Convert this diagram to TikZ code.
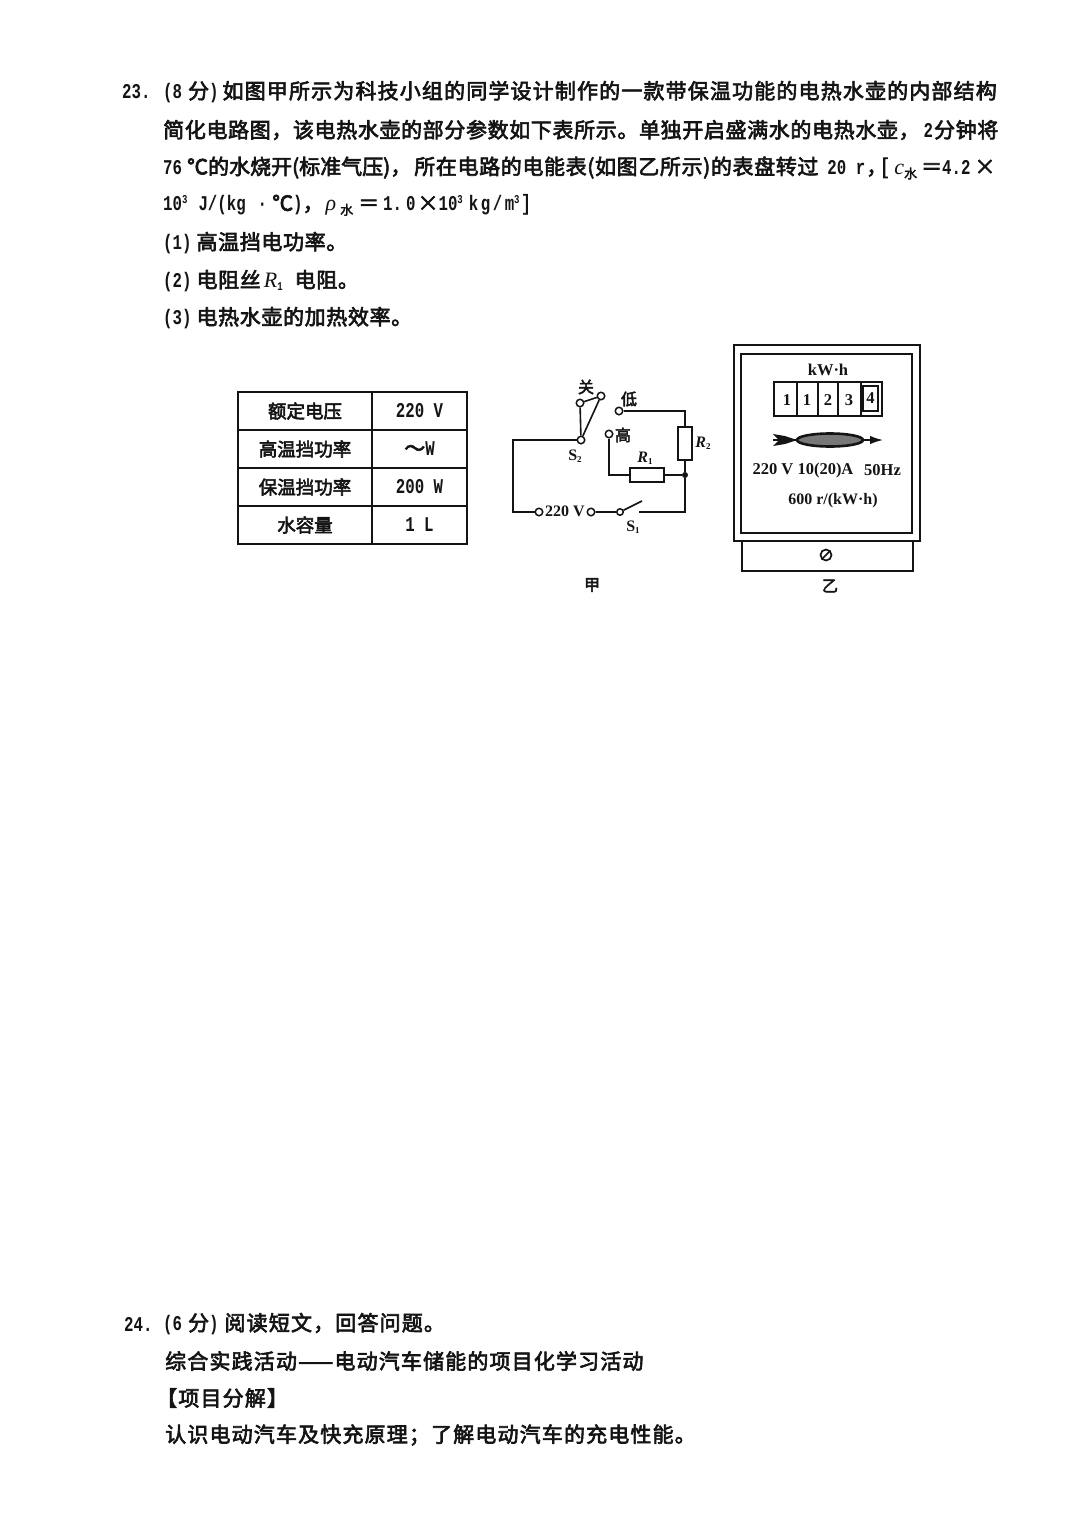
\documentclass[tikz,border=0pt]{standalone}
\usepackage{fontspec}
\usepackage{xcolor}
\usepackage{tikz}
\usetikzlibrary{arrows.meta}
\usetikzlibrary{positioning}
\usetikzlibrary{shapes.geometric}
\setmainfont[FakeStretch=0.75]{Liberation Mono}
\newfontfamily\zhwide[FakeBold=3,LetterSpace=5.5]{Noto Sans CJK SC}
\newfontfamily\zhmid[FakeBold=3,LetterSpace=3]{Noto Sans CJK SC}
\newfontfamily\zhtight[FakeBold=3]{Noto Sans CJK SC}
\newfontfamily\metafont{Liberation Serif}
\newcommand{\zhsize}{\mdseries\fontsize{21}{24}\selectfont}
\newcommand{\zh}[1]{{\zhwide\zhsize #1}}
\newcommand{\zm}[1]{{\zhmid\zhsize #1}}
\newcommand{\zt}[1]{{\zhtight\zhsize #1}}
\newcommand{\up}[1]{\raisebox{7pt}{\fontsize{12}{12}\selectfont #1}}
\newcommand{\water}{\raisebox{-4pt}{{\zhtight\mdseries\fontsize{13}{13}\selectfont 水}}}
\newcommand{\ital}[1]{{\metafont\mdseries\itshape\fontsize{22}{24}\selectfont #1}}
\definecolor{inkblack}{HTML}{141414}
\definecolor{discgray}{HTML}{777777}
\tikzset{
    textline/.style={anchor=west, inner sep=0pt, font=\bfseries\fontsize{21}{24}\selectfont, text=inkblack},
    tablecell/.style={draw=inkblack, line width=1.5pt, minimum height=38pt, inner sep=0pt,
        font=\bfseries\fontsize{21}{22}\selectfont, text=inkblack},
    tablehead/.style={tablecell, minimum width=134pt, font=\zhtight\mdseries\fontsize{18.5}{22}\selectfont},
    tablevalue/.style={tablecell, minimum width=95pt},
    terminal/.style={circle, draw=inkblack, line width=1.5pt, fill=white, minimum size=7.5pt, inner sep=0pt},
    resistor/.style={rectangle, draw=inkblack, line width=1.5pt, fill=white, inner sep=0pt},
    wire/.style={draw=inkblack, line width=1.6pt},
    junction/.style={circle, fill=inkblack, minimum size=6pt, inner sep=0pt},
    zhlabel/.style={inner sep=0pt, text=inkblack, font=\zhtight\fontsize{16}{18}\selectfont},
    circlabel/.style={inner sep=0pt, text=inkblack, font=\metafont\bfseries\fontsize{16}{18}\selectfont},
    itlabel/.style={inner sep=0pt, text=inkblack, font=\metafont\bfseries\itshape\fontsize{16}{18}\selectfont},
    meterlabel/.style={inner sep=0pt, text=inkblack, font=\metafont\bfseries\fontsize{16.5}{20}\selectfont},
    meterbox/.style={rectangle, draw=inkblack, line width=1.5pt, inner sep=0pt}
}
\begin{document}
\begin{tikzpicture}[x=1pt, y=-1pt]
    \useasboundingbox (0,0) rectangle (1080,1527);
    % question 23
    \node[textline] (q1) at (122,92) {23.};
    \node[textline] (q1a) at (163,92) {(8\hspace{6pt}\zh{分})\hspace{4pt}\zh{如图甲所示为科技小组的同学设计制作的一款带保温功能的电热水壶的内部结构}};
    \node[textline] (q2) at (163,130) {\zm{简化电路图，该电热水壶的部分参数如下表所示。单独开启盛满水的电热水壶，}\hspace{4pt}2\hspace{1pt}\zm{分钟将}};
    \node[textline] (q3) at (163,168) {76\hspace{5pt}\zt{℃的水烧开(标准气压)，}\hspace{3pt}\zm{所在电路的电能表(如图乙所示)的表盘转过}\hspace{9pt}20 r\hspace{1pt}\zt{，}\hspace{-6pt}\zt{[}\hspace{6pt}\ital{c}\water\hspace{4pt}\zt{＝}4.2\hspace{4pt}\zt{×}};
    \node[textline] (q4) at (163,205) {10\up{3}\hspace{11pt}J/(kg\hspace{12pt}·\hspace{5pt}\zt{℃})\zt{，}\hspace{2pt}\ital{ρ}\hspace{4pt}\water\hspace{5pt}\zt{＝}\hspace{4pt}1.\hspace{4pt}0\hspace{2pt}\zt{×}10\up{3}\hspace{6pt}{\addfontfeature{LetterSpace=12}kg/m}\up{3}\hspace{3pt}\zt{]}};
    \node[textline] (q5) at (163,243) {(1)\hspace{5pt}\zm{高温挡电功率。}};
    \node[textline] (q6) at (163,281) {(2)\hspace{5pt}\zm{电阻丝}\hspace{3pt}\ital{R}\raisebox{-3pt}{\fontsize{12}{12}\selectfont 1}\hspace{12pt}\zm{电阻。}};
    \node[textline] (q7) at (163,318) {(3)\hspace{5pt}\zm{电热水壶的加热效率。}};
    % table
    \node[tablehead] (t1a) at (305,411) {额定电压};
    \node[tablevalue] (t1b) at (419.5,411) {220 V};
    \node[tablehead] (t2a) at (305,449) {高温挡功率};
    \node[tablevalue] (t2b) at (419.5,449) {\zt{～}W};
    \node[tablehead] (t3a) at (305,487) {保温挡功率};
    \node[tablevalue] (t3b) at (419.5,487) {200 W};
    \node[tablehead] (t4a) at (305,525) {水容量};
    \node[tablevalue] (t4b) at (419.5,525) {1 L};
    % circuit
    \node[terminal] (off1) at (580,403) {};
    \node[terminal] (off2) at (601,396) {};
    \node[terminal] (pivot) at (581,440) {};
    \node[terminal] (low) at (619,411) {};
    \node[terminal] (high) at (609,434) {};
    \node[terminal] (p1) at (539,512) {};
    \node[terminal] (p2) at (591,512) {};
    \node[terminal, minimum size=6.5pt] (s1) at (620,512) {};
    \node[junction] (dot) at (685,475) {};
    \node[resistor, minimum width=34pt, minimum height=14pt] (r1) at (647,475) {};
    \node[resistor, minimum width=14pt, minimum height=33pt] (r2) at (685,443.5) {};
    \coordinate (corner1) at (513,440);
    \coordinate (corner2) at (513,512);
    \coordinate (corner3) at (685,411);
    \coordinate (corner4) at (609,475);
    \coordinate (corner5) at (685,512);
    \coordinate (blade) at (642,501);
    \coordinate (contact) at (639,512);
    \draw[wire] (pivot) -- (corner1) -- (corner2) -- (p1);
    \draw[wire] (pivot) -- (off1) -- (off2) -- (pivot);
    \draw[wire] (p2) -- (s1) -- (blade);
    \draw[wire] (contact) -- (corner5) -- (dot);
    \draw[wire] (low) -- (corner3) -- (r2);
    \draw[wire] (r2) -- (dot);
    \draw[wire] (high) -- (corner4) -- (r1);
    \draw[wire] (r1) -- (dot);
    \node[zhlabel] (lguan) at (586,387) {关};
    \node[zhlabel] (ldi) at (629,399) {低};
    \node[zhlabel] (lgao) at (623,435) {高};
    \node[circlabel] (ls2) at (575,456) {S\raisebox{-2pt}{\fontsize{9}{9}\selectfont 2}};
    \node[circlabel] (ls1) at (633,527) {S\raisebox{-2pt}{\fontsize{9}{9}\selectfont 1}};
    \node[circlabel] (lv) at (565,511) {220 V};
    \node[itlabel] (lr1) at (645,458) {R\raisebox{-2pt}{\fontsize{9}{9}\selectfont\upshape 1}};
    \node[itlabel] (lr2) at (703,443) {R\raisebox{-2pt}{\fontsize{9}{9}\selectfont\upshape 2}};
    \node[zhlabel] (ljia) at (592,585) {甲};
    % meter
    \node[meterbox, line width=2pt, minimum width=186pt, minimum height=196pt] (case) at (827,443) {};
    \node[meterbox, line width=2pt, minimum width=171pt, minimum height=179pt] (face) at (826.5,443.5) {};
    \node[meterbox, minimum width=171pt, minimum height=30pt] (base) at (827.5,556) {};
    \node[circle, draw=inkblack, line width=1.7pt, minimum size=11pt, inner sep=0pt] (screw) at (826,555) {};
    \draw[inkblack, line width=1.7pt] (screw.south west) -- (screw.north east);
    \node[meterlabel] (unit) at (828,370) {kW·h};
    \node[meterbox, minimum width=108pt, minimum height=34pt] (counter) at (828,399) {};
    \node[meterlabel] (d1) at (787,400) {1};
    \node[meterlabel] (d2) at (807,400) {1};
    \node[meterlabel] (d3) at (828,400) {2};
    \node[meterlabel] (d4) at (849,400) {3};
    \node[meterlabel, meterbox, minimum width=15pt, minimum height=25pt] (d5) at (870.5,398.5) {4};
    \draw[inkblack, line width=1.3pt] (797,382) -- (797,416) (818,382) -- (818,416) (838,382) -- (838,416) (861,382) -- (861,416);
    \node[ellipse, draw=inkblack, line width=2.6pt, fill=discgray, minimum width=66pt, minimum height=13pt, inner sep=0pt] (disc) at (830,440) {};
    \coordinate (tail) at (773,440);
    \coordinate (tip) at (883,440);
    \draw[inkblack, line width=1.5pt, -{Latex[length=13pt,width=8.5pt]}] (disc.east) -- (tip);
    \draw[inkblack, line width=1.6pt] (tail) -- (disc.west);
    \fill[inkblack] (773,434) -- (785,436) -- (797,440) -- (785,444) -- (773,446) -- (779,440) -- cycle;
    \node[meterlabel] (rate) at (803,471) {220 V 10(20)A};
    \node[meterlabel] (freq) at (882.5,470) {50Hz};
    \node[meterlabel, font=\metafont\bfseries\fontsize{16}{20}\selectfont] (rev) at (833,501) {600 r/(kW·h)};
    \node[zhlabel] (lyi) at (830,586) {乙};
    % question 24
    \node[textline] (q8) at (124,1324) {24.};
    \node[textline] (q8a) at (163,1324) {(6\hspace{6pt}\zh{分})\hspace{6pt}\zh{阅读短文，回答问题。}};
    \node[textline] (q9) at (165,1361) {\zh{综合实践活动——电动汽车储能的项目化学习活动}};
    \node[textline] (q10) at (156,1398) {\zh{【项目分解】}};
    \node[textline] (q11) at (165,1435) {\zh{认识电动汽车及快充原理；了解电动汽车的充电性能。}};
\end{tikzpicture}
\end{document}
